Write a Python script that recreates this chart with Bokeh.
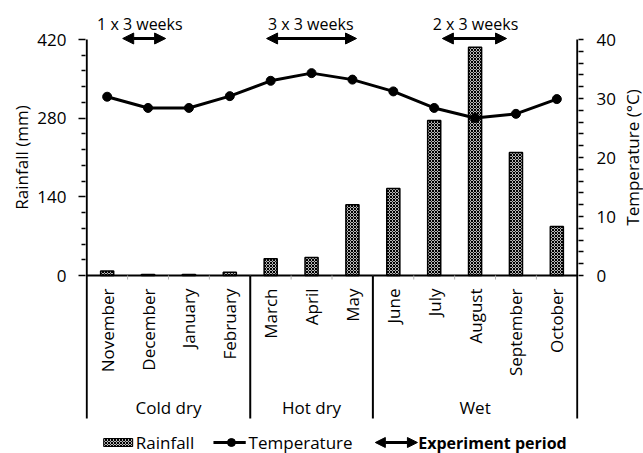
import math
from bokeh.plotting import figure
from bokeh.layouts import row
from bokeh.models import (FactorRange, Range1d, LinearAxis, FixedTicker, Arrow,
                          NormalHead, ColumnDataSource)
from bokeh.core.properties import value
from bokeh.embed import file_html
from bokeh.resources import INLINE

# ---- data ----
months = ["November", "December", "January", "February", "March", "April", "May",
          "June", "July", "August", "September", "October"]
rainfall = [8, 2, 2, 6, 30, 32, 126, 155, 276, 406, 219, 87]
temperature = [30.3, 28.4, 28.4, 30.4, 33.0, 34.3, 33.2, 31.2, 28.4, 26.7, 27.4, 29.9]
seasons = ["Cold dry", "Hot dry", "Wet"]
season_bounds = [0, 4, 7, 12]
rain_ticks = [0, 140, 280, 420]
rain_minor = [28, 56, 84, 112, 168, 196, 224, 252, 308, 336, 364, 392]
temp_ticks = [0, 10, 20, 30, 40]
temp_minor = [2, 4, 6, 8, 12, 14, 16, 18, 22, 24, 26, 28, 32, 34, 36, 38]
exp_labels = ["1 x 3 weeks", "3 x 3 weeks", "2 x 3 weeks"]
exp_start = [0.88, 4.40, 8.70]
exp_end = [1.93, 6.60, 10.27]
exp_text_x = [1.30, 5.48, 9.51]
left_title = "Rainfall (mm)"
right_title = "Temperature (°C)"
legend_labels = ["Rainfall", "Temperature"]
legend_arrow_label = "Experiment period"

FONT = "Open Sans"
FS = "17px"
H = 453
LW, MW, RW = 32, 588, 23      # widths of: left title strip, main chart, right title strip

# vertical layout: rainfall 0 at y 275, 420 at y 39 (canvas pixels)
PX = 236 / 420.0
def ydat(py):
    return (275 - py) / PX

Y_TOP = ydat(0)
Y_BOT = ydat(H)
T_K = 40 / 420.0

src = ColumnDataSource(dict(month=months, rain=rainfall, temp=temperature))

p = figure(x_range=FactorRange(factors=months, range_padding=0.03,
                               range_padding_units="absolute"),
           y_range=Range1d(Y_BOT, Y_TOP),
           width=MW, height=H, output_backend="svg", toolbar_location=None,
           x_axis_location=None,
           min_border_left=85 - LW, min_border_right=LW + MW - 578, min_border_top=0,
           min_border_bottom=0)
p.extra_y_ranges = {"temp": Range1d(Y_BOT * T_K, Y_TOP * T_K)}
p.outline_line_color = None
for g in p.grid:
    g.grid_line_color = None
p.background_fill_color = "white"

# bars
p.vbar(x="month", top="rain", width=0.32, source=src, fill_color="#b8b8b8",
       line_color="black", line_width=1.5, hatch_pattern="diagonal_cross",
       hatch_scale=3, hatch_weight=1, hatch_color="black")
# temperature line
p.line(x="month", y="temp", source=src, y_range_name="temp", line_color="black",
       line_width=3)
p.scatter(x="month", y="temp", source=src, y_range_name="temp", size=9,
          fill_color="black", line_color="black")

# y axes (ticks + labels); axis lines drawn as segments below
ya = p.yaxis[0]
ya.ticker = FixedTicker(ticks=rain_ticks, minor_ticks=rain_minor)
ya.major_tick_out = 7
ya.minor_tick_out = 4
ya.major_label_standoff = 12

ra = LinearAxis(y_range_name="temp",
                ticker=FixedTicker(ticks=temp_ticks, minor_ticks=temp_minor))
ra.major_tick_out = 5
ra.minor_tick_out = 5
ra.major_label_standoff = 13
p.add_layout(ra, "right")

for ax in (ya, ra):
    ax.axis_line_color = None
    ax.major_tick_in = 0
    ax.minor_tick_in = 0
    ax.major_tick_line_width = 1.5
    ax.minor_tick_line_width = 1.5
    ax.major_tick_line_color = "black"
    ax.minor_tick_line_color = "black"
    ax.major_label_text_font = FONT
    ax.major_label_text_font_size = FS
    ax.major_label_text_color = "black"

# axis frame lines
p.segment(x0=[0, 12], y0=[ydat(418)] * 2, x1=[0, 12], y1=[420, 420],
          line_color="black", line_width=2)
p.segment(x0=[0], y0=[0], x1=[12], y1=[0], line_color="black", line_width=2)
# boundary ticks under the x axis
inner = [i for i in range(1, 12)]
p.segment(x0=inner, y0=[0] * len(inner), x1=inner, y1=[ydat(279)] * len(inner),
          line_color="#b0b0b0", line_width=1)
# season separators
mids = season_bounds[1:-1]
p.segment(x0=mids, y0=[0] * len(mids), x1=mids, y1=[ydat(418)] * len(mids),
          line_color="black", line_width=2)

# month labels
p.text(x=months, y=[ydat(288)] * len(months), text=months, angle=math.pi / 2,
       text_align="right", text_baseline="middle", text_font=value(FONT),
       text_font_size=value(FS), text_color="black")
# season labels
season_x = [(season_bounds[k] + season_bounds[k + 1]) / 2 for k in range(len(seasons))]
p.text(x=season_x, y=[ydat(407)] * len(seasons), text=seasons, text_align="center",
       text_baseline="middle", text_font=value(FONT), text_font_size=value(FS),
       text_color="black")

# experiment periods
for xs, xe in zip(exp_start, exp_end):
    p.add_layout(Arrow(x_start=xs, y_start=ydat(38), x_end=xe, y_end=ydat(38),
                       start=NormalHead(size=11, fill_color="black", line_color="black"),
                       end=NormalHead(size=11, fill_color="black", line_color="black"),
                       line_color="black", line_width=3))
p.text(x=exp_text_x, y=[ydat(23)] * 3, text=exp_labels, text_align="center",
       text_baseline="middle", text_font=value(FONT), text_font_size=value("16px"),
       text_color="black")

# legend (drawn manually)
LY = 442
p.quad(left=[0.415], right=[1.124], top=[ydat(LY - 4)], bottom=[ydat(LY + 4)],
       fill_color="#b8b8b8", line_color="black", line_width=1,
       hatch_pattern="diagonal_cross", hatch_scale=3, hatch_weight=1,
       hatch_color="black")
p.line(x=[3.10, 3.89], y=[ydat(LY)] * 2, line_color="black", line_width=3)
p.scatter(x=[3.54], y=[ydat(LY)], size=8, fill_color="black", line_color="black")
p.add_layout(Arrow(x_start=7.06, y_start=ydat(LY), x_end=8.09, y_end=ydat(LY),
                   start=NormalHead(size=10, fill_color="black", line_color="black"),
                   end=NormalHead(size=10, fill_color="black", line_color="black"),
                   line_color="black", line_width=3))
p.text(x=[1.2, 3.96], y=[ydat(LY)] * 2, text=legend_labels,
       text_align="left", text_baseline="middle", text_font=value(FONT),
       text_font_size=value(FS), text_color="black")
p.text(x=[8.11], y=[ydat(LY)], text=[legend_arrow_label],
       text_align="left", text_baseline="middle", text_font=value(FONT),
       text_font_size=value("16px"), text_font_style="bold", text_color="black")


def title_strip(width, cx, label):
    f = figure(width=width, height=H, x_range=Range1d(0, width), y_range=Range1d(H, 0),
               output_backend="svg", toolbar_location=None, x_axis_location=None,
               y_axis_location=None, min_border=0)
    f.min_border_left = f.min_border_right = f.min_border_top = f.min_border_bottom = 0
    f.outline_line_color = None
    for g in f.grid:
        g.grid_line_color = None
    f.text(x=[cx], y=[157], text=[label], angle=math.pi / 2, text_align="center",
           text_baseline="middle", text_font=value(FONT), text_font_size=value(FS),
           text_color="black")
    return f


lt = title_strip(LW, 21, left_title)
rt = title_strip(RW, 632 - LW - MW, right_title)

layout = row(lt, p, rt, spacing=0)
open("out.html", "w").write(file_html(layout, INLINE))
